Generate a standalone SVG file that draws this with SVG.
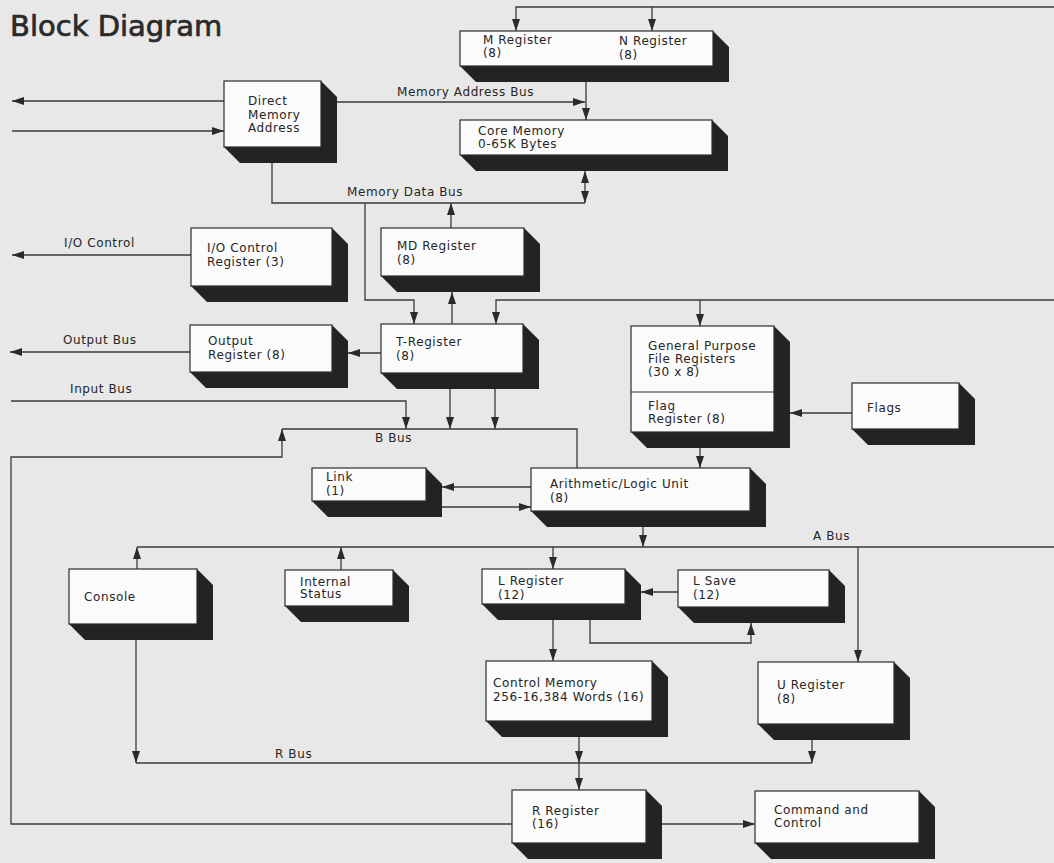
<svg xmlns="http://www.w3.org/2000/svg" width="1054" height="863" viewBox="0 0 1054 863">
<style>
.bg{fill:#e8e8e8}
.face{fill:#fbfbfb;stroke:#2e2e2e;stroke-width:1.2}
.sh{fill:#232323}
.ln{fill:none;stroke:#3a3a3a;stroke-width:1.3}
.ar{marker-end:url(#ah)}
text{font-family:"DejaVu Sans","Liberation Sans",sans-serif;font-size:12px;letter-spacing:0.6px;fill:#262626}
.title{font-size:29px;letter-spacing:0;fill:#2a2a2a;stroke:#2a2a2a;stroke-width:0.7}
</style>
<defs>
<marker id="ah" markerUnits="userSpaceOnUse" markerWidth="12" markerHeight="8" refX="12" refY="4" orient="auto">
<path d="M0,0 L12,4 L0,8 Z" fill="#2a2a2a"/>
</marker>
</defs>
<rect class="bg" x="0" y="0" width="1054" height="863"/>
<text class="title" x="10" y="36">Block Diagram</text>

<g id="connectors">
<path class="ln ar" d="M1054 7 H516 V31"/>
<path class="ln ar" d="M652 7 V31"/>
<path class="ln ar" d="M224 101 H12"/>
<path class="ln ar" d="M12 131 H224"/>
<path class="ln ar" d="M337 102 H585"/>
<path class="ln ar" d="M586 82 V120"/>
<path class="ln" d="M272 163 V203 H585"/>
<path class="ln ar" d="M585 188 V171"/>
<path class="ln ar" d="M585 188 V203"/>
<path class="ln ar" d="M451 228 V203"/>
<path class="ln ar" d="M365 203 V300 H414 V324"/>
<path class="ln ar" d="M452 324 V292"/>
<path class="ln ar" d="M1054 300 H496 V324"/>
<path class="ln ar" d="M700 300 V326"/>
<path class="ln ar" d="M191 255 H12"/>
<path class="ln ar" d="M190 352 H10"/>
<path class="ln ar" d="M381 353 H348"/>
<path class="ln ar" d="M11 401 H406 V429"/>
<path class="ln ar" d="M450 389 V429"/>
<path class="ln ar" d="M495 389 V429"/>
<path class="ln" d="M282 429 H577 V468"/>
<path class="ln ar" d="M512 824 H11 V457 H282 V429"/>
<path class="ln ar" d="M531 487 H442"/>
<path class="ln ar" d="M442 507 H531"/>
<path class="ln ar" d="M700 448 V468"/>
<path class="ln ar" d="M852 413 H790"/>
<path class="ln ar" d="M643 527 V547"/>
<path class="ln" d="M137 547 H1054"/>
<path class="ln ar" d="M137 569 V547"/>
<path class="ln ar" d="M341 570 V547"/>
<path class="ln ar" d="M553 547 V569"/>
<path class="ln ar" d="M858 547 V662"/>
<path class="ln ar" d="M678 592 H641"/>
<path class="ln ar" d="M590 620 V643 H751 V623"/>
<path class="ln ar" d="M553 620 V661"/>
<path class="ln ar" d="M579 737 V763"/>
<path class="ln ar" d="M579 763 V790"/>
<path class="ln ar" d="M136 640 V763"/>
<path class="ln" d="M136 763 H812"/>
<path class="ln ar" d="M812 740 V763"/>
<path class="ln ar" d="M662 824 H755"/>
</g>

<g id="labels">
<text x="397" y="96">Memory Address Bus</text>
<text x="347" y="196">Memory Data Bus</text>
<text x="64" y="247">I/O Control</text>
<text x="63" y="344">Output Bus</text>
<text x="70" y="393">Input Bus</text>
<text x="375" y="442">B Bus</text>
<text x="813" y="540">A Bus</text>
<text x="275" y="758">R Bus</text>
</g>

<g id="dma">
<polygon class="sh" points="321,81 337,97 337,163 240,163 224,147 321,147"/>
<rect class="face" x="224" y="81" width="97" height="66"/>
<text x="248" y="105">Direct</text><text x="248" y="119">Memory</text><text x="248" y="132">Address</text>
</g>
<g id="mn-register">
<polygon class="sh" points="713,31 729,47 729,82 476,82 460,66 713,66"/>
<rect class="face" x="460" y="31" width="253" height="35"/>
<text x="483" y="44">M Register</text><text x="483" y="57">(8)</text>
<text x="619" y="45">N Register</text><text x="619" y="59">(8)</text>
</g>
<g id="core-memory">
<polygon class="sh" points="712,120 728,136 728,171 476,171 460,155 712,155"/>
<rect class="face" x="460" y="120" width="252" height="35"/>
<text x="478" y="135">Core Memory</text><text x="478" y="148">0-65K Bytes</text>
</g>
<g id="io-control">
<polygon class="sh" points="332,228 348,244 348,302 207,302 191,286 332,286"/>
<rect class="face" x="191" y="228" width="141" height="58"/>
<text x="207" y="252">I/O Control</text><text x="207" y="266">Register (3)</text>
</g>
<g id="md-register">
<polygon class="sh" points="524,228 540,244 540,292 397,292 381,276 524,276"/>
<rect class="face" x="381" y="228" width="143" height="48"/>
<text x="397" y="250">MD Register</text><text x="397" y="264">(8)</text>
</g>
<g id="output-register">
<polygon class="sh" points="332,325 348,341 348,388 206,388 190,372 332,372"/>
<rect class="face" x="190" y="325" width="142" height="47"/>
<text x="208" y="345">Output</text><text x="208" y="359">Register (8)</text>
</g>
<g id="t-register">
<polygon class="sh" points="523,324 539,340 539,389 397,389 381,373 523,373"/>
<rect class="face" x="381" y="324" width="142" height="49"/>
<text x="396" y="346">T-Register</text><text x="396" y="360">(8)</text>
</g>
<g id="gp-registers">
<polygon class="sh" points="774,326 790,342 790,448 647,448 631,432 774,432"/>
<rect class="face" x="631" y="326" width="143" height="106"/>
<line x1="631" y1="392" x2="774" y2="392" stroke="#2e2e2e" stroke-width="1.2"/>
<text x="648" y="350">General Purpose</text><text x="648" y="363">File Registers</text><text x="648" y="376">(30 x 8)</text>
<text x="648" y="410">Flag</text><text x="648" y="423">Register (8)</text>
</g>
<g id="flags">
<polygon class="sh" points="959,383 975,399 975,445 868,445 852,429 959,429"/>
<rect class="face" x="852" y="383" width="107" height="46"/>
<text x="867" y="412">Flags</text>
</g>
<g id="link">
<polygon class="sh" points="426,468 442,484 442,517 328,517 312,501 426,501"/>
<rect class="face" x="312" y="468" width="114" height="33"/>
<text x="326" y="481">Link</text><text x="326" y="495">(1)</text>
</g>
<g id="alu">
<polygon class="sh" points="750,468 766,484 766,527 547,527 531,511 750,511"/>
<rect class="face" x="531" y="468" width="219" height="43"/>
<text x="550" y="488">Arithmetic/Logic Unit</text><text x="550" y="502">(8)</text>
</g>
<g id="console">
<polygon class="sh" points="197,569 213,585 213,640 85,640 69,624 197,624"/>
<rect class="face" x="69" y="569" width="128" height="55"/>
<text x="84" y="601">Console</text>
</g>
<g id="internal-status">
<polygon class="sh" points="393,570 409,586 409,622 301,622 285,606 393,606"/>
<rect class="face" x="285" y="570" width="108" height="36"/>
<text x="300" y="586">Internal</text><text x="300" y="598">Status</text>
</g>
<g id="l-register">
<polygon class="sh" points="625,569 641,585 641,620 498,620 482,604 625,604"/>
<rect class="face" x="482" y="569" width="143" height="35"/>
<text x="498" y="585">L Register</text><text x="498" y="599">(12)</text>
</g>
<g id="l-save">
<polygon class="sh" points="829,570 845,586 845,623 694,623 678,607 829,607"/>
<rect class="face" x="678" y="570" width="151" height="37"/>
<text x="693" y="585">L Save</text><text x="693" y="599">(12)</text>
</g>
<g id="control-memory">
<polygon class="sh" points="652,661 668,677 668,737 502,737 486,721 652,721"/>
<rect class="face" x="486" y="661" width="166" height="60"/>
<text x="493" y="687">Control Memory</text><text x="493" y="701">256-16,384 Words (16)</text>
</g>
<g id="u-register">
<polygon class="sh" points="894,662 910,678 910,740 774,740 758,724 894,724"/>
<rect class="face" x="758" y="662" width="136" height="62"/>
<text x="777" y="689">U Register</text><text x="777" y="703">(8)</text>
</g>
<g id="r-register">
<polygon class="sh" points="646,790 662,806 662,859 528,859 512,843 646,843"/>
<rect class="face" x="512" y="790" width="134" height="53"/>
<text x="532" y="815">R Register</text><text x="532" y="828">(16)</text>
</g>
<g id="command-control">
<polygon class="sh" points="919,791 935,807 935,859 771,859 755,843 919,843"/>
<rect class="face" x="755" y="791" width="164" height="52"/>
<text x="774" y="814">Command and</text><text x="774" y="827">Control</text>
</g>
</svg>
